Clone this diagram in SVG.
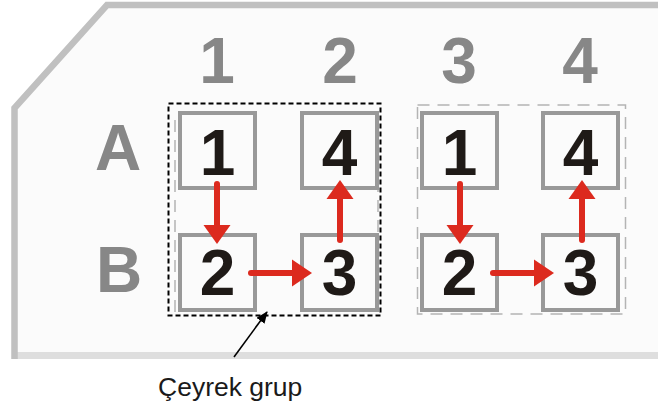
<svg xmlns="http://www.w3.org/2000/svg" width="658" height="407" viewBox="0 0 658 407">
  <defs>
    <style>
      .hdr { font-family: "Liberation Sans", Arial, sans-serif; font-weight: bold; font-size: 64px; fill: #878787; text-anchor: middle; }
      .num { font-family: "Liberation Sans", Arial, sans-serif; font-weight: bold; font-size: 64px; fill: #1f1a17; text-anchor: middle; }
      .cell { fill: none; stroke: #999999; stroke-width: 4; }
      .flow { stroke: #dc2a1e; stroke-width: 6; stroke-linecap: round; fill: none; }
      .head { fill: #dc2a1e; }
      .thin { fill: none; stroke: #b4b4b4; stroke-width: 1.5; stroke-dasharray: 12 8; }
      .caption { font-family: "Liberation Sans", Arial, sans-serif; font-size: 26.5px; fill: #1a1a1a; }
    </style>
    <marker id="blackTip" markerWidth="12" markerHeight="10" refX="11" refY="5" orient="auto" markerUnits="userSpaceOnUse">
      <path d="M0,0 L12,5 L0,10 Z" fill="#000"/>
    </marker>
  </defs>

  <!-- panel -->
  <g id="panel">
    <polygon points="107,5 658,5 658,355 14.5,355 14.5,108" fill="#fbfbfb"/>
    <line x1="14" y1="355.5" x2="658" y2="355.5" stroke="#dedede" stroke-width="7"/>
    <path d="M658,5 L107,5 L14.5,108 L14.5,359" fill="none" stroke="#c0c0c0" stroke-width="6.5"/>
  </g>

  <!-- headers -->
  <g id="headers">
    <text class="hdr" x="217" y="83">1</text>
    <text class="hdr" x="340" y="83">2</text>
    <text class="hdr" x="459" y="83">3</text>
    <text class="hdr" x="580" y="83">4</text>
    <text class="hdr" x="118" y="170">A</text>
    <text class="hdr" x="119" y="292">B</text>
  </g>

  <!-- group frames -->
  <g id="frames">
    <line class="thin" x1="175" y1="120" x2="175" y2="312"/>
    <line class="thin" x1="378" y1="120" x2="378" y2="312"/>
    <rect class="thin" x="417.5" y="105" width="208" height="209"/>
    <rect x="168.5" y="103.5" width="212" height="212" fill="none" stroke="#000" stroke-width="2" stroke-dasharray="5 3"/>
  </g>

  <!-- cells -->
  <g id="cell-A1"><rect class="cell" x="180" y="113" width="75" height="75"/><text class="num" x="217.5" y="175">1</text></g>
  <g id="cell-A2"><rect class="cell" x="302" y="113" width="75" height="75"/><text class="num" x="339.5" y="175">4</text></g>
  <g id="cell-B1"><rect class="cell" x="180" y="235" width="75" height="75"/><text class="num" x="217.5" y="295">2</text></g>
  <g id="cell-B2"><rect class="cell" x="302" y="235" width="75" height="75"/><text class="num" x="339.5" y="295">3</text></g>
  <g id="cell-A3"><rect class="cell" x="422" y="113" width="75" height="75"/><text class="num" x="459.5" y="175">1</text></g>
  <g id="cell-A4"><rect class="cell" x="543" y="113" width="75" height="75"/><text class="num" x="580.5" y="175">4</text></g>
  <g id="cell-B3"><rect class="cell" x="422" y="235" width="75" height="75"/><text class="num" x="459.5" y="295">2</text></g>
  <g id="cell-B4"><rect class="cell" x="543" y="235" width="75" height="75"/><text class="num" x="580.5" y="295">3</text></g>

  <!-- connectors -->
  <g id="connectors">
    <!-- left group: down, right, up -->
    <line class="flow" x1="217" y1="184" x2="217" y2="228"/>
    <polygon class="head" points="203.5,225 230.5,225 217,244"/>
    <line class="flow" x1="251" y1="273" x2="296" y2="273"/>
    <polygon class="head" points="292,259.5 292,286.5 312,273"/>
    <line class="flow" x1="340" y1="240" x2="340" y2="196"/>
    <polygon class="head" points="326.5,199 353.5,199 340,180"/>
    <!-- right group: down, right, up -->
    <line class="flow" x1="460" y1="184" x2="460" y2="228"/>
    <polygon class="head" points="446.5,225 473.5,225 460,244"/>
    <line class="flow" x1="493" y1="273" x2="538" y2="273"/>
    <polygon class="head" points="534,259.5 534,286.5 554,273"/>
    <line class="flow" x1="582" y1="240" x2="582" y2="196"/>
    <polygon class="head" points="568.5,199 595.5,199 582,180"/>
    <!-- caption pointer -->
    <line x1="234" y1="357" x2="267" y2="312" stroke="#000" stroke-width="1.6" marker-end="url(#blackTip)"/>
  </g>

  <text class="caption" x="158" y="396">Çeyrek grup</text>
</svg>
